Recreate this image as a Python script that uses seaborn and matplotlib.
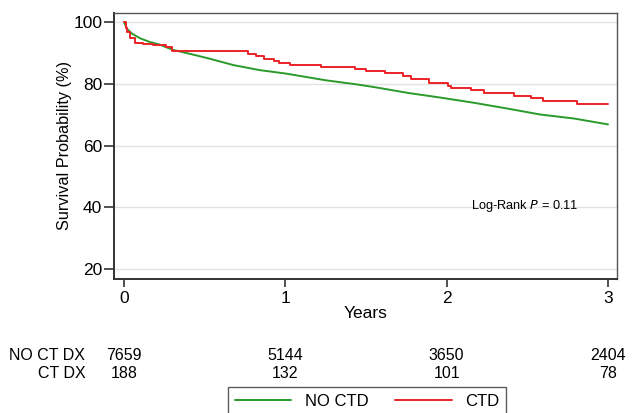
"""
Kaplan-Meier style survival curves (NO CTD vs CTD) with a numbers-at-risk table.
"""

import numpy as np
import pandas as pd
import matplotlib
matplotlib.use("Agg")
import matplotlib.pyplot as plt
import matplotlib.transforms as mtransforms
import seaborn as sns

sns.set_theme(style="white")
plt.rcParams["font.family"] = ["Liberation Sans", "DejaVu Sans"]
plt.rcParams["text.color"] = "black"
plt.rcParams["axes.labelcolor"] = "black"
plt.rcParams["xtick.color"] = "black"
plt.rcParams["ytick.color"] = "black"

# ── Data ──────────────────────────────────────────────────────────────────────
no_ctd_years = [0, 0.02, 0.05, 0.10, 0.16, 0.22, 0.30, 0.43, 0.53, 0.68, 0.84,
                1.00, 1.25, 1.45, 1.55, 1.76, 1.96, 2.17, 2.38, 2.58, 2.79, 3.00]
no_ctd_surv = [100, 97.8, 96.3, 94.8, 93.6, 92.8, 91.1, 89.5, 88.2, 86.1, 84.5,
               83.4, 81.2, 79.8, 79.0, 77.1, 75.6, 73.9, 72.0, 70.1, 68.8, 66.9]

ctd_years = [0, 0.01, 0.02, 0.04, 0.07, 0.12, 0.18, 0.26, 0.30, 0.77, 0.82, 0.87,
             0.93, 0.96, 1.03, 1.22, 1.43, 1.50, 1.62, 1.73, 1.78, 1.89, 2.01,
             2.03, 2.15, 2.23, 2.42, 2.52, 2.60, 2.81, 3.00]
ctd_surv = [100, 98.3, 96.8, 94.8, 93.4, 92.9, 92.6, 92.1, 90.7, 89.8, 89.0, 88.2,
            87.4, 86.7, 86.3, 85.5, 84.8, 84.1, 83.4, 82.5, 81.7, 80.3, 79.4,
            78.6, 77.9, 77.0, 76.2, 75.4, 74.5, 73.5, 73.5]

risk_years = [0, 1, 2, 3]
risk_no_ct_dx = [7659, 5144, 3650, 2404]
risk_ct_dx = [188, 132, 101, 78]

GREEN = "#2a9a2a"
RED = "#ec2227"

df_green = pd.DataFrame({"Years": no_ctd_years, "Survival": no_ctd_surv})
df_red = pd.DataFrame({"Years": ctd_years, "Survival": ctd_surv})

# ── Figure ────────────────────────────────────────────────────────────────────
fig = plt.figure(figsize=(6.39, 4.13), dpi=100)
ax = fig.add_axes([0.1784, 0.3245, 0.7872, 0.644])

sns.lineplot(data=df_green, x="Years", y="Survival", color=GREEN, lw=1.4,
             estimator=None, sort=False, label="NO CTD", ax=ax)
sns.lineplot(data=df_red, x="Years", y="Survival", color=RED, lw=1.4,
             estimator=None, sort=False, drawstyle="steps-post",
             label="CTD", ax=ax)

ax.set_xlim(-0.062, 3.056)
ax.set_ylim(16.8, 103)
ax.set_xticks([0, 1, 2, 3])
ax.set_yticks([20, 40, 60, 80, 100])
ax.grid(axis="y", color="#e2e2e2", lw=1)
ax.set_axisbelow(True)

for side in ["left", "bottom"]:
    ax.spines[side].set_color("#333333")
    ax.spines[side].set_linewidth(1.4)
for side in ["top", "right"]:
    ax.spines[side].set_color("#555555")
    ax.spines[side].set_linewidth(1.0)

ax.tick_params(axis="both", direction="out", width=1.2, color="#333333",
               labelsize=12.5, bottom=True, left=True)
ax.tick_params(axis="x", length=6, pad=3)
ax.tick_params(axis="y", length=7, pad=1.5)
ax.set_xlabel("Years", fontsize=12.5, labelpad=0)
ax.set_ylabel("Survival Probability (%)", fontsize=11.7, labelpad=1)

ax.text(2.486, 40.3, r"Log-Rank $\it{P}$ = 0.11", fontsize=9.2, ha="center",
        va="center")

# ── Numbers-at-risk table ────────────────────────────────────────────────────
trans = mtransforms.blended_transform_factory(ax.transData, fig.transFigure)
row_y = [1 - 355 / 413, 1 - 373 / 413]
for y, label, counts in [(row_y[0], "NO CT DX", risk_no_ct_dx),
                         (row_y[1], "CT DX", risk_ct_dx)]:
    ax.text(-0.24, y, label, transform=trans, ha="right", va="center",
            fontsize=11.5)
    for x, n in zip(risk_years, counts):
        ax.text(x, y, f"{n}", transform=trans, ha="center", va="center",
                fontsize=11.5)

# ── Legend ────────────────────────────────────────────────────────────────────
handles, labels = ax.get_legend_handles_labels()
ax.get_legend().remove()
leg = fig.legend(handles, labels, loc="upper center", ncol=2,
                 bbox_to_anchor=(0.574, 1 - 387 / 413), frameon=True,
                 fancybox=False, edgecolor="#333333", fontsize=12,
                 handlelength=3.4, columnspacing=1.6, borderpad=0.42,
                 borderaxespad=0)
leg.get_frame().set_linewidth(1.0)

fig.savefig("out.png", dpi=100)
